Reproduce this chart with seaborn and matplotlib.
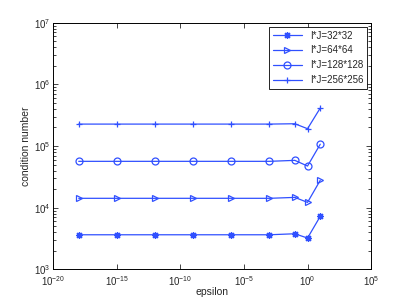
import numpy as np
import pandas as pd
import matplotlib
matplotlib.use("Agg")
import matplotlib.pyplot as plt
import matplotlib.ticker as mticker
import seaborn as sns

# epsilon values (x) and condition numbers for each grid size
epsilon = [1e-18, 1e-15, 1e-12, 1e-9, 1e-6, 1e-3, 1e-1, 1, 10]
cond_32 = [3.64e3, 3.64e3, 3.64e3, 3.64e3, 3.64e3, 3.64e3, 3.78e3, 3.22e3, 7.24e3]
cond_64 = [1.42e4, 1.42e4, 1.42e4, 1.42e4, 1.42e4, 1.42e4, 1.47e4, 1.22e4, 2.78e4]
cond_128 = [5.65e4, 5.65e4, 5.65e4, 5.65e4, 5.65e4, 5.65e4, 5.86e4, 4.74e4, 1.07e5]
cond_256 = [2.27e5, 2.27e5, 2.27e5, 2.27e5, 2.27e5, 2.27e5, 2.30e5, 1.91e5, 4.13e5]

labels = ["I*J=32*32", "I*J=64*64", "I*J=128*128", "I*J=256*256"]
markers = [(8, 2, 0), ">", "o", "+"]
series = [cond_32, cond_64, cond_128, cond_256]

sns.set_style("ticks")
plt.rcParams["font.family"] = ["Liberation Sans", "DejaVu Sans"]
plt.rcParams["font.size"] = 7
plt.rcParams["mathtext.fontset"] = "custom"
plt.rcParams["mathtext.rm"] = "Liberation Sans"
plt.rcParams["mathtext.it"] = "Liberation Sans"
plt.rcParams["mathtext.default"] = "regular"

fig = plt.figure(figsize=(4.09, 3.03), dpi=100)
ax = fig.add_axes([0.1303, 0.111, 0.777, 0.814])

color = "#3050ff"
for lab, mk, vals in zip(labels, markers, series):
    df = pd.DataFrame({"epsilon": epsilon, "cond": vals})
    sns.lineplot(data=df, x="epsilon", y="cond", ax=ax, color=color,
                 marker=mk, markersize=5, linewidth=0.9, label=lab,
                 markerfacecolor="none" if mk in ("o", ">") else color,
                 markeredgecolor=color, markeredgewidth=0.9)

ax.set_xscale("log")
ax.set_yscale("log")
ax.set_xlim(1e-20, 1e5)
ax.set_ylim(1e3, 1e7)

fmt = mticker.FuncFormatter(lambda v, p: r"$10^{%d}$" % round(np.log10(v)))
ax.xaxis.set_major_locator(mticker.FixedLocator([10.0**k for k in range(-20, 6, 5)]))
ax.xaxis.set_minor_locator(mticker.NullLocator())
ax.xaxis.set_major_formatter(fmt)
ax.yaxis.set_major_locator(mticker.LogLocator(base=10, numticks=10))
ax.yaxis.set_minor_locator(mticker.LogLocator(base=10, subs=np.arange(2, 10), numticks=20))
ax.yaxis.set_major_formatter(fmt)

ax.tick_params(which="both", direction="in", top=True, right=True, labelsize=7, width=0.6)
ax.tick_params(which="major", length=3.5, pad=2)
ax.tick_params(axis="x", which="major", pad=3.5)
ax.tick_params(which="minor", length=2)
for s in ax.spines.values():
    s.set_linewidth(0.7)
    s.set_color("black")

ax.set_xlabel("epsilon", fontsize=7.5)
ax.set_ylabel("condition number", fontsize=7.5)
ax.xaxis.set_label_coords(0.5, -0.072)
ax.yaxis.set_label_coords(-0.07, 0.5)

leg = ax.legend(loc="upper right", fontsize=7, frameon=True, fancybox=False,
                edgecolor="black", framealpha=1, handlelength=3.0,
                borderpad=0.4, labelspacing=0.5, borderaxespad=0.4)
leg.get_frame().set_linewidth(0.6)

fig.savefig("out.png", dpi=100)
